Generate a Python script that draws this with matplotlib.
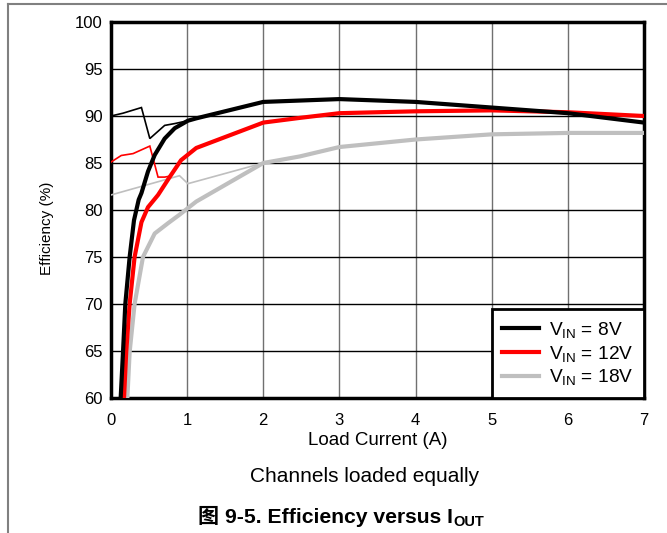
import matplotlib
matplotlib.use("Agg")
import matplotlib.pyplot as plt
from matplotlib.lines import Line2D

plt.rcParams['font.family'] = ['Liberation Sans', 'Noto Sans CJK SC', 'DejaVu Sans']
plt.rcParams['mathtext.fontset'] = 'custom'
plt.rcParams['mathtext.rm'] = 'Liberation Sans'
plt.rcParams['mathtext.it'] = 'Liberation Sans'
plt.rcParams['mathtext.bf'] = 'Liberation Sans:bold'

# thick curves (all channels loaded)
i_8v = [0.127, 0.158, 0.188, 0.245, 0.302, 0.364, 0.40, 0.486, 0.574, 0.705, 0.837, 1.01, 1.12,
        2.0, 3.0, 4.0, 5.0, 6.0, 7.0]
eff_8v = [60.0, 64.9, 70.0, 75.0, 78.9, 81.1, 81.8, 84.1, 85.85, 87.6, 88.7, 89.5, 89.75,
          91.5, 91.8, 91.5, 90.9, 90.3, 89.3]
i_12v = [0.171, 0.20, 0.245, 0.31, 0.40, 0.486, 0.618, 0.77, 0.92, 1.12, 2.0, 2.48,
         3.0, 4.0, 5.0, 6.0, 7.0]
eff_12v = [60.0, 64.9, 70.0, 75.0, 78.7, 80.3, 81.6, 83.5, 85.3, 86.6, 89.3, 89.8,
           90.3, 90.5, 90.6, 90.4, 90.0]
i_18v = [0.215, 0.245, 0.31, 0.42, 0.574, 0.75, 0.90, 1.12, 2.0, 2.48, 3.0, 4.0, 5.0, 6.0, 7.0]
eff_18v = [60.0, 64.9, 70.0, 75.0, 77.5, 78.6, 79.5, 80.9, 85.0, 85.7, 86.7, 87.5, 88.05, 88.2, 88.2]

# thin curves (light load mode)
i_8v_ll = [0.0, 0.158, 0.40, 0.51, 0.705, 0.84, 1.01]
eff_8v_ll = [90.0, 90.3, 90.9, 87.6, 89.0, 89.2, 89.5]
i_12v_ll = [0.0, 0.135, 0.29, 0.51, 0.618, 0.705, 0.77]
eff_12v_ll = [85.1, 85.8, 86.0, 86.8, 83.5, 83.5, 83.6]
i_18v_ll = [0.0, 0.90, 1.01, 2.0]
eff_18v_ll = [81.6, 83.65, 82.8, 85.0]

labels = ['$V_{IN}$ = 8V', '$V_{IN}$ = 12V', '$V_{IN}$ = 18V']
colors = ['black', '#ff0000', '#bfbfbf']

fig = plt.figure(figsize=(6.67, 5.33), dpi=100)
ax = fig.add_axes([0.1664, 0.2533, 0.7991, 0.7054])

# outer frame of the figure panel
fig.add_artist(Line2D([8 / 667, 8 / 667], [0, 1 - 4 / 533], color='#808080', lw=1.5))
fig.add_artist(Line2D([8 / 667, 1], [1 - 4 / 533, 1 - 4 / 533], color='#808080', lw=1.5))

thick = [(i_8v, eff_8v), (i_12v, eff_12v), (i_18v, eff_18v)]
thin = [(i_8v_ll, eff_8v_ll), (i_12v_ll, eff_12v_ll), (i_18v_ll, eff_18v_ll)]
for k in [2, 1, 0]:
    ax.plot(thin[k][0], thin[k][1], color=colors[k], lw=1.2, solid_joinstyle='miter', zorder=3)
for k in [2, 1, 0]:
    ax.plot(thick[k][0], thick[k][1], color=colors[k], lw=3.0, solid_joinstyle='round', zorder=4)

ax.set_xlim(0, 7)
ax.set_ylim(60, 100)
ax.set_xticks(range(0, 8))
ax.set_yticks(range(60, 101, 5))
for x in range(1, 7):
    ax.axvline(x, color='#707070', lw=1.0, zorder=1)
for y in range(65, 100, 5):
    ax.axhline(y, color='black', lw=1.0, zorder=1)
for s in ax.spines.values():
    s.set_linewidth(2.5)
ax.tick_params(length=0, labelsize=12, pad=6)
ax.tick_params(axis='x', pad=11)

ax.set_xlabel('Load Current (A)', fontsize=13.5, labelpad=3)
ax.set_ylabel('Efficiency (%)', fontsize=11, labelpad=12)
ax.yaxis.set_label_coords(-0.107, 0.452)

handles = [Line2D([], [], color=c, lw=3.0) for c in colors]
leg = ax.legend(handles, labels, loc='lower right', bbox_to_anchor=(1, 0),
                borderaxespad=0, fontsize=13.8, fancybox=False, framealpha=1,
                handlelength=1.9, labelspacing=0.2, borderpad=0.55, handletextpad=0.55)
leg.get_frame().set_edgecolor('black')
leg.get_frame().set_linewidth(2.0)
leg.set_zorder(6)

fig.text(365 / 667, 1 - 477 / 533, 'Channels loaded equally', ha='center', va='center', fontsize=15)
t1 = fig.text(198 / 667, 1 - 516 / 533, '图 9-5. Efficiency versus I', ha='left', va='center',
              fontsize=15.2, fontweight='bold')
ax.annotate('OUT', xy=(1, 0), xycoords=t1, xytext=(0.5, -2), textcoords='offset points',
            ha='left', va='bottom', fontsize=10.5, fontweight='bold')

fig.savefig('out.png', dpi=100)
